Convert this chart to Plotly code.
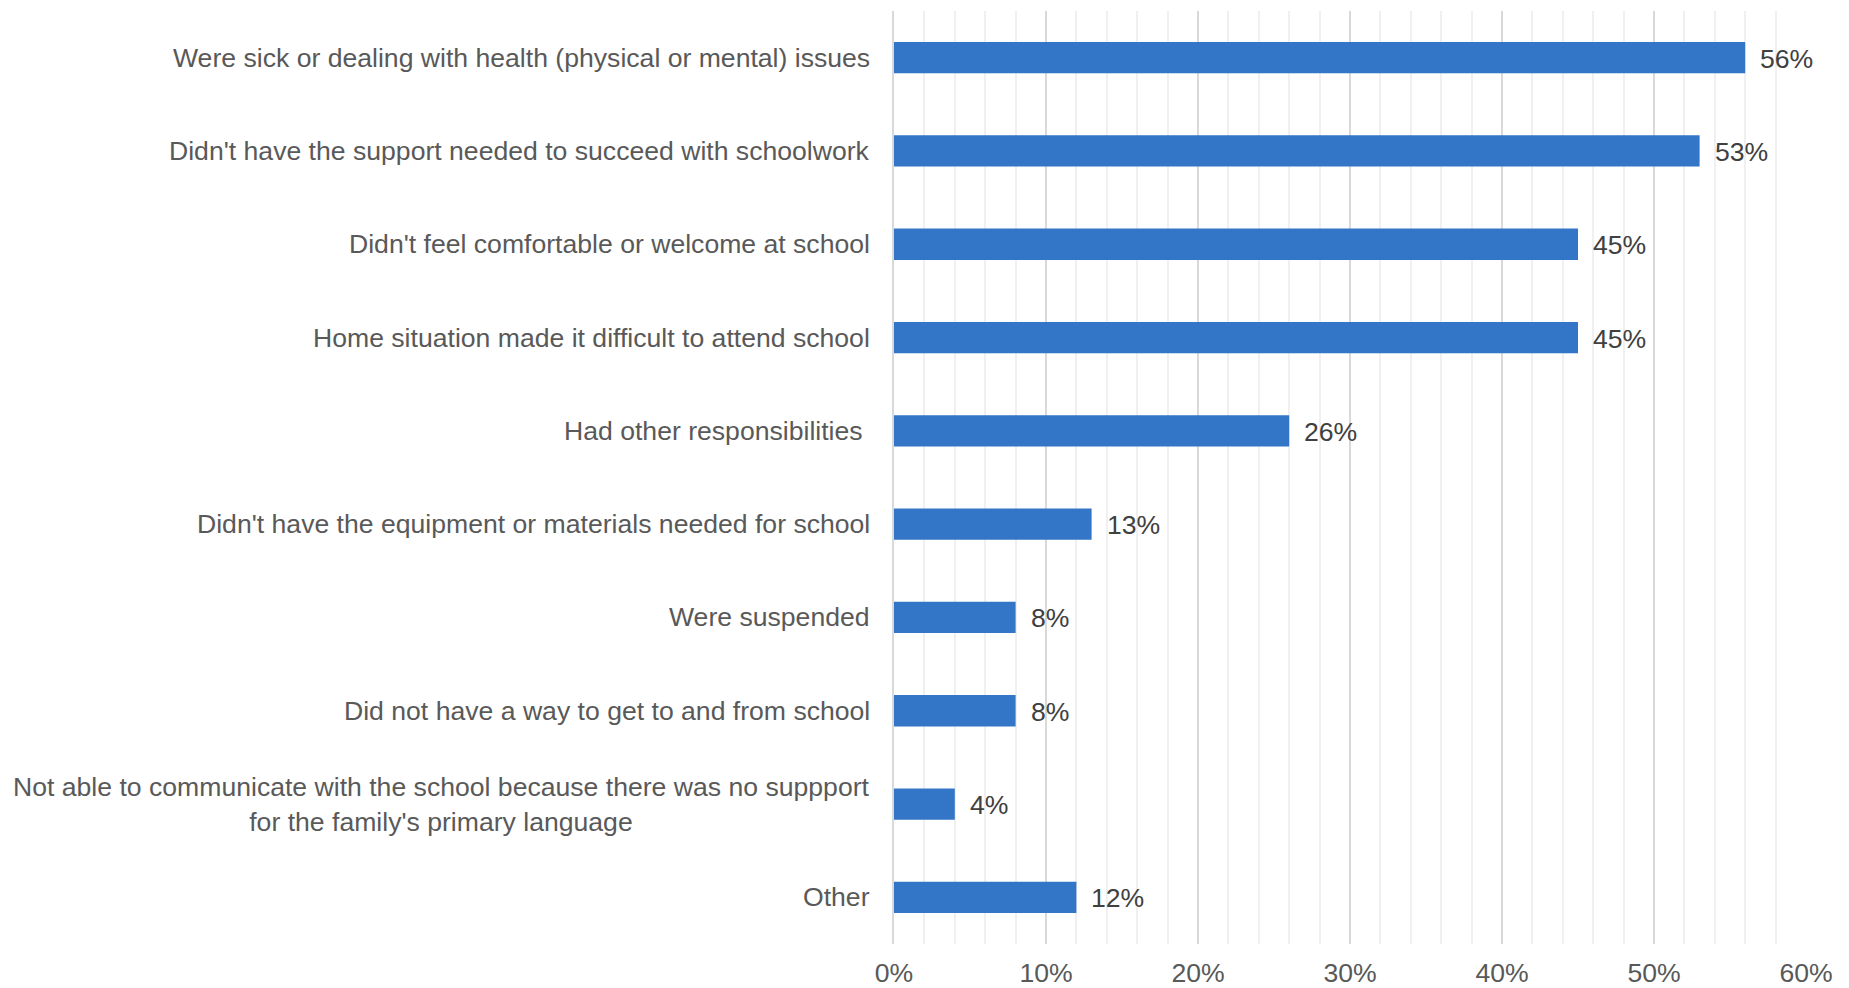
import plotly.graph_objects as go

# Reasons given, in display order (top to bottom)
categories = [
    "Were sick or dealing with health (physical or mental) issues",
    "Didn't have the support needed to succeed with schoolwork",
    "Didn't feel comfortable or welcome at school",
    "Home situation made it difficult to attend school",
    "Had other responsibilities\u00a0",
    "Didn't have the equipment or materials needed for school",
    "Were suspended",
    "Did not have a way to get to and from school",
    "Not able to communicate with the school because there was no suppport<br>for the family's primary language",
    "Other",
]
shares = [0.56, 0.53, 0.45, 0.45, 0.26, 0.13, 0.08, 0.08, 0.04, 0.12]
x_ticks = [0, 0.1, 0.2, 0.3, 0.4, 0.5, 0.6]
x_tick_labels = ["0%", "10%", "20%", "30%", "40%", "50%", "60%"]

BAR_COLOR = "#3375c6"
LABEL_COLOR = "#595959"
VALUE_COLOR = "#404040"
FONT = "Liberation Sans, Arial, sans-serif"
FONT_SIZE = 26.6

y_pos = list(range(len(categories)))

fig = go.Figure(
    go.Bar(
        x=shares,
        y=y_pos,
        orientation="h",
        width=0.335,
        marker=dict(color=BAR_COLOR, line=dict(width=0)),
        hoverinfo="skip",
    )
)

# category labels to the left of the zero line
for yi, cat in zip(y_pos, categories):
    fig.add_annotation(
        x=0, y=yi, xref="x", yref="y",
        text=cat, showarrow=False,
        xanchor="right", yanchor="middle", align="center",
        xshift=-22,
        font=dict(family=FONT, size=FONT_SIZE, color=LABEL_COLOR),
    )

# value labels just past the end of each bar
for yi, v in zip(y_pos, shares):
    fig.add_annotation(
        x=v, y=yi, xref="x", yref="y",
        text=f"{round(v * 100)}%", showarrow=False,
        xanchor="left", yanchor="middle",
        xshift=13, yshift=-1,
        font=dict(family=FONT, size=FONT_SIZE, color=VALUE_COLOR),
    )

fig.update_layout(
    width=1849,
    height=988,
    margin=dict(l=894, r=43, t=11, b=44),
    paper_bgcolor="white",
    plot_bgcolor="white",
    showlegend=False,
    font=dict(family=FONT, size=FONT_SIZE, color=LABEL_COLOR),
    xaxis=dict(
        range=[0, 0.6],
        tickvals=x_ticks,
        ticktext=x_tick_labels,
        showgrid=True,
        gridcolor="#d9d9d9",
        gridwidth=1.5,
        zeroline=False,
        showline=False,
        ticks="outside",
        ticklen=5,
        tickcolor="rgba(0,0,0,0)",
        tickfont=dict(family=FONT, size=FONT_SIZE, color=LABEL_COLOR),
        minor=dict(dtick=0.02, tick0=0, showgrid=True, gridcolor="#f0f0f0", gridwidth=1.5),
        automargin=False,
        fixedrange=True,
    ),
    yaxis=dict(
        range=[len(categories) - 0.5, -0.5],
        showticklabels=False,
        showgrid=False,
        zeroline=False,
        showline=True,
        linecolor="#d9d9d9",
        linewidth=1.5,
        automargin=False,
        fixedrange=True,
    ),
    bargap=0.665,
)

fig.write_html("out.html", config={"displayModeBar": False})
